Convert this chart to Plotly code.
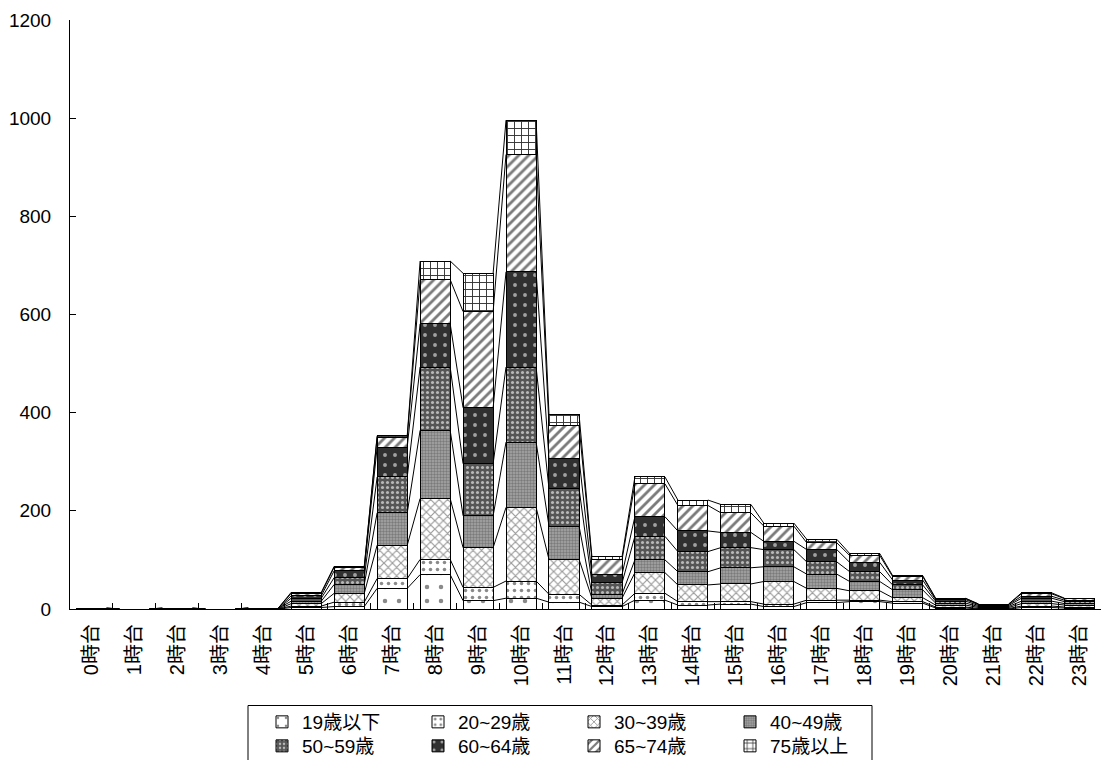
import plotly.graph_objects as go

# Hour-of-day categories
hours = ["0時台", "1時台", "2時台", "3時台", "4時台", "5時台", "6時台", "7時台",
         "8時台", "9時台", "10時台", "11時台", "12時台", "13時台", "14時台", "15時台",
         "16時台", "17時台", "18時台", "19時台", "20時台", "21時台", "22時台", "23時台"]

# Counts per age group for each hour
age_19_under = [0, 0, 0, 0, 0, 3, 5, 42, 70, 17, 22, 14, 5, 18, 8, 10, 5, 13, 15, 12, 2, 0, 3, 2]
age_20_29 = [0, 0, 0, 0, 0, 3, 9, 20, 31, 27, 35, 16, 3, 14, 7, 5, 5, 5, 3, 3, 2, 1, 3, 2]
age_30_39 = [0, 0, 0, 0, 0, 5, 18, 68, 124, 81, 150, 71, 14, 42, 34, 36, 46, 24, 19, 8, 4, 2, 5, 4]
age_40_49 = [0, 0, 0, 0, 1, 5, 18, 66, 139, 65, 133, 68, 8, 26, 27, 33, 30, 29, 19, 16, 4, 2, 5, 3]
age_50_59 = [0, 0, 1, 0, 0, 6, 14, 73, 129, 106, 153, 76, 23, 48, 41, 41, 35, 25, 20, 10, 4, 2, 6, 4]
age_60_64 = [1, 0, 0, 0, 1, 5, 14, 61, 88, 114, 194, 61, 17, 40, 42, 31, 17, 25, 19, 10, 3, 2, 4, 3]
age_65_74 = [1, 0, 1, 0, 0, 5, 7, 20, 90, 196, 239, 67, 30, 67, 52, 40, 31, 14, 14, 7, 2, 1, 5, 3]
age_75_over = [0, 0, 0, 0, 0, 2, 2, 3, 38, 78, 70, 23, 6, 14, 11, 17, 6, 7, 4, 2, 1, 0, 2, 1]

series_names = ["19歳以下", "20~29歳", "30~39歳", "40~49歳",
                "50~59歳", "60~64歳", "65~74歳", "75歳以上"]
series_values = [age_19_under, age_20_29, age_30_39, age_40_49,
                 age_50_59, age_60_64, age_65_74, age_75_over]

y_ticks = [0, 200, 400, 600, 800, 1000, 1200]

# Monochrome fill patterns, one per age group
patterns = [
    dict(shape=".", fgcolor="#8a8a8a", bgcolor="white", size=14, solidity=0.08),
    dict(shape=".", fgcolor="#8a8a8a", bgcolor="white", size=7, solidity=0.2),
    dict(shape="x", fgcolor="#9a9a9a", bgcolor="white", size=6, solidity=0.35),
    dict(shape=".", fgcolor="#7a7a7a", bgcolor="#a8a8a8", size=3, solidity=0.5),
    dict(shape=".", fgcolor="#b8b8b8", bgcolor="#555555", size=5, solidity=0.3),
    dict(shape=".", fgcolor="#a0a0a0", bgcolor="#303030", size=10, solidity=0.12),
    dict(shape="/", fgcolor="#7a7a7a", bgcolor="white", size=7, solidity=0.4),
    dict(shape="+", fgcolor="#333333", bgcolor="white", size=7, solidity=0.25),
]

FONT = "Liberation Sans, Arial, Noto Sans CJK JP, sans-serif"
BAR_W = 0.7
x = list(range(len(hours)))

fig = go.Figure()

for i, (name, vals, pat) in enumerate(zip(series_names, series_values, patterns)):
    fig.add_bar(
        x=x, y=vals, name=name, width=BAR_W,
        marker=dict(color="white", line=dict(color="black", width=1),
                    pattern=dict(fillmode="replace", **pat)),
        legend="legend" if i < 4 else "legend2",
    )

# Series lines joining each stacked segment top to the next bar
cum = [0] * len(hours)
for vals in series_values:
    cum = [c + v for c, v in zip(cum, vals)]
    xs, ys = [], []
    for i in range(len(hours) - 1):
        xs += [x[i] + BAR_W / 2, x[i + 1] - BAR_W / 2, None]
        ys += [cum[i], cum[i + 1], None]
    fig.add_scatter(x=xs, y=ys, mode="lines", line=dict(color="black", width=1),
                    showlegend=False, hoverinfo="skip")

legend_common = dict(
    orientation="h", xref="container", yref="container",
    xanchor="left", yanchor="top", entrywidth=111, itemwidth=30,
    traceorder="normal",
    font=dict(family=FONT, size=19, color="black"),
    bgcolor="rgba(0,0,0,0)", borderwidth=0, tracegroupgap=0,
    itemclick=False, itemdoubleclick=False,
)

fig.update_layout(
    width=1101, height=760,
    margin=dict(l=70, r=0, t=20, b=151),
    barmode="stack",
    plot_bgcolor="white", paper_bgcolor="white",
    font=dict(family=FONT, color="black"),
    xaxis=dict(
        range=[-0.5, len(hours) - 0.5],
        tickmode="array", tickvals=x, ticktext=hours, tickangle=-90,
        ticks="", showline=True, linecolor="black", linewidth=1,
        showgrid=False, zeroline=False,
        tickfont=dict(family=FONT, size=20, color="black"),
        ticklabelstandoff=6,
        minor=dict(tickmode="array", tickvals=[v + 0.5 for v in x[:-1]],
                   ticks="inside", ticklen=6, tickcolor="black", showgrid=False),
    ),
    yaxis=dict(
        range=[0, 1200], tickmode="array", tickvals=y_ticks,
        ticks="inside", ticklen=6, tickcolor="black",
        showline=True, linecolor="black", linewidth=1,
        showgrid=False, zeroline=False,
        tickfont=dict(family=FONT, size=19, color="black"),
        ticklabelstandoff=14,
    ),
    legend=dict(x=262 / 1101, y=1 - 703 / 760, **legend_common),
    legend2=dict(x=262 / 1101, y=1 - 727 / 760, **legend_common),
    shapes=[dict(
        type="rect", xref="paper", yref="paper",
        x0=(248 - 70) / 1031, x1=(872 - 70) / 1031,
        y0=(609 - 775) / 589, y1=(609 - 705.5) / 589,
        line=dict(color="black", width=1), fillcolor="rgba(0,0,0,0)",
    )],
)

fig.write_html("out.html")
